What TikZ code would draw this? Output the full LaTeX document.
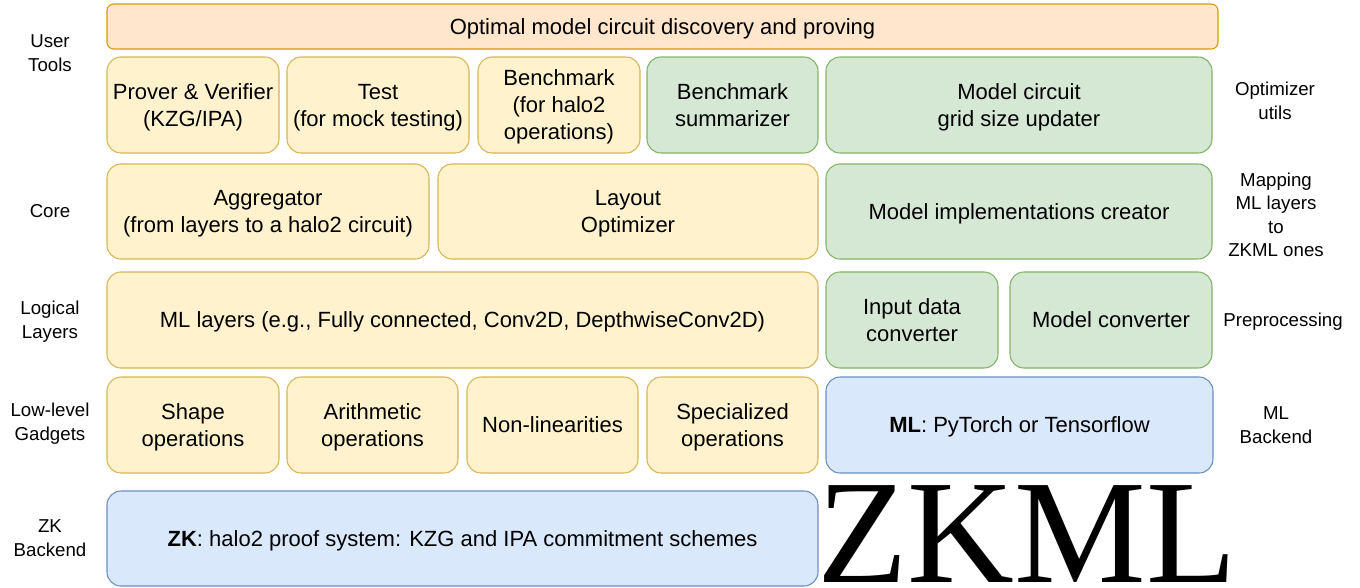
\documentclass[tikz,border=0pt]{standalone}
\usepackage{fontspec}
\setmainfont{Liberation Sans}
\newfontfamily\zkmlfont{Liberation Serif}
\definecolor{yfill}{HTML}{FFF2CC}
\definecolor{ydraw}{HTML}{D6B656}
\definecolor{gfill}{HTML}{D5E8D4}
\definecolor{gdraw}{HTML}{82B366}
\definecolor{bfill}{HTML}{DAE8FC}
\definecolor{bdraw}{HTML}{6C8EBF}
\definecolor{ofill}{HTML}{FFE6CC}
\definecolor{odraw}{HTML}{D79B00}
\newcommand\bs{\rule[-4.22pt]{0pt}{20.25pt}}
\newcommand\ls{\rule[-3.8pt]{0pt}{17.6pt}}
\tikzset{
  box/.style={rectangle, rounded corners=10.5pt, line width=0.8pt, inner sep=0pt, outer sep=0pt,
    align=center, font=\fontsize{16.5}{20.25}\selectfont,
    execute at begin node=\bs, execute at end node=\bs},
  ybox/.style={box, fill=yfill, draw=ydraw},
  gbox/.style={box, fill=gfill, draw=gdraw},
  bbox/.style={box, fill=bfill, draw=bdraw},
  obox/.style={box, fill=ofill, draw=odraw, rounded corners=5pt},
  sz/.style n args={2}{minimum width=#1*0.75pt, minimum height=#2*0.75pt},
  lbl/.style={align=center, inner sep=0pt, font=\fontsize{14}{17.6}\selectfont,
    execute at begin node=\ls, execute at end node=\ls},
}
\begin{document}
\begin{tikzpicture}[x=0.75pt,y=-0.75pt]
\useasboundingbox (0,0) rectangle (1360,587);
% top banner
\node[obox, sz={1111}{45}] (banner) at (662.5,26.5) {Optimal model circuit discovery and proving};
% row 1
\node[ybox, sz={172}{96}] (prover) at (193,105) {\bs Prover \& Verifier\\(KZG/IPA)};
\node[ybox, sz={182}{96}] (test) at (378,105) {\bs Test\\(for mock testing)};
\node[ybox, sz={162}{96}] (bench) at (559,105) {\bs Benchmark\\(for halo2\\operations)};
\node[gbox, sz={171}{96}] (benchsum) at (732.5,105) {\bs Benchmark\\summarizer};
\node[gbox, sz={386}{96}] (gridupd) at (1019,105) {\bs Model circuit\\grid size updater};
% row 2
\node[ybox, sz={322}{95}] (aggr) at (268,211.5) {\bs Aggregator\\(from layers to a halo2 circuit)};
\node[ybox, sz={380}{95}] (layout) at (628,211.5) {\bs Layout\\Optimizer};
\node[gbox, sz={386}{95}] (impl) at (1019,211.5) {Model implementations creator};
% row 3
\node[ybox, sz={711}{96}] (mllayers) at (462.5,320) {ML layers (e.g., Fully connected, Conv2D, DepthwiseConv2D)};
\node[gbox, sz={172}{96}] (inconv) at (912,320) {\bs Input data\\converter};
\node[gbox, sz={202}{96}] (modconv) at (1111,320) {Model converter};
% row 4
\node[ybox, sz={172}{96}] (shape) at (193,425) {\bs Shape\\operations};
\node[ybox, sz={171}{96}] (arith) at (372.5,425) {\bs Arithmetic\\operations};
\node[ybox, sz={171}{96}] (nonlin) at (552.5,425) {Non-linearities};
\node[ybox, sz={171}{96}] (spec) at (732.5,425) {\bs Specialized\\operations};
\node[bbox, sz={387}{96}] (mlback) at (1019.5,425) {\textbf{ML}: PyTorch or Tensorflow};
% row 5
\node[bbox, sz={711}{95}] (zkback) at (462.5,538.5) {\textbf{ZK}: halo2 proof system: KZG and IPA commitment schemes};
\node[anchor=base, inner sep=0pt, font=\zkmlfont\fontsize{111}{111}\selectfont] (zkml) at (1027,582) {ZKML};
% left labels
\node[lbl] (lusr) at (50,53) {\ls User\\Tools};
\node[lbl] (lcore) at (50,211) {Core};
\node[lbl] (llog) at (50,320) {\ls Logical\\Layers};
\node[lbl] (llow) at (50,422) {\ls Low-level\\Gadgets};
\node[lbl] (lzk) at (50,538) {\ls ZK\\Backend};
% right labels
\node[lbl] (ropt) at (1275,101) {\ls Optimizer\\utils};
\node[lbl] (rmap) at (1276,215) {\ls Mapping\\ML layers\\to\\ZKML ones};
\node[lbl] (rpre) at (1283,320) {Preprocessing};
\node[lbl] (rml) at (1276,425) {\ls ML\\Backend};
\end{tikzpicture}
\end{document}
